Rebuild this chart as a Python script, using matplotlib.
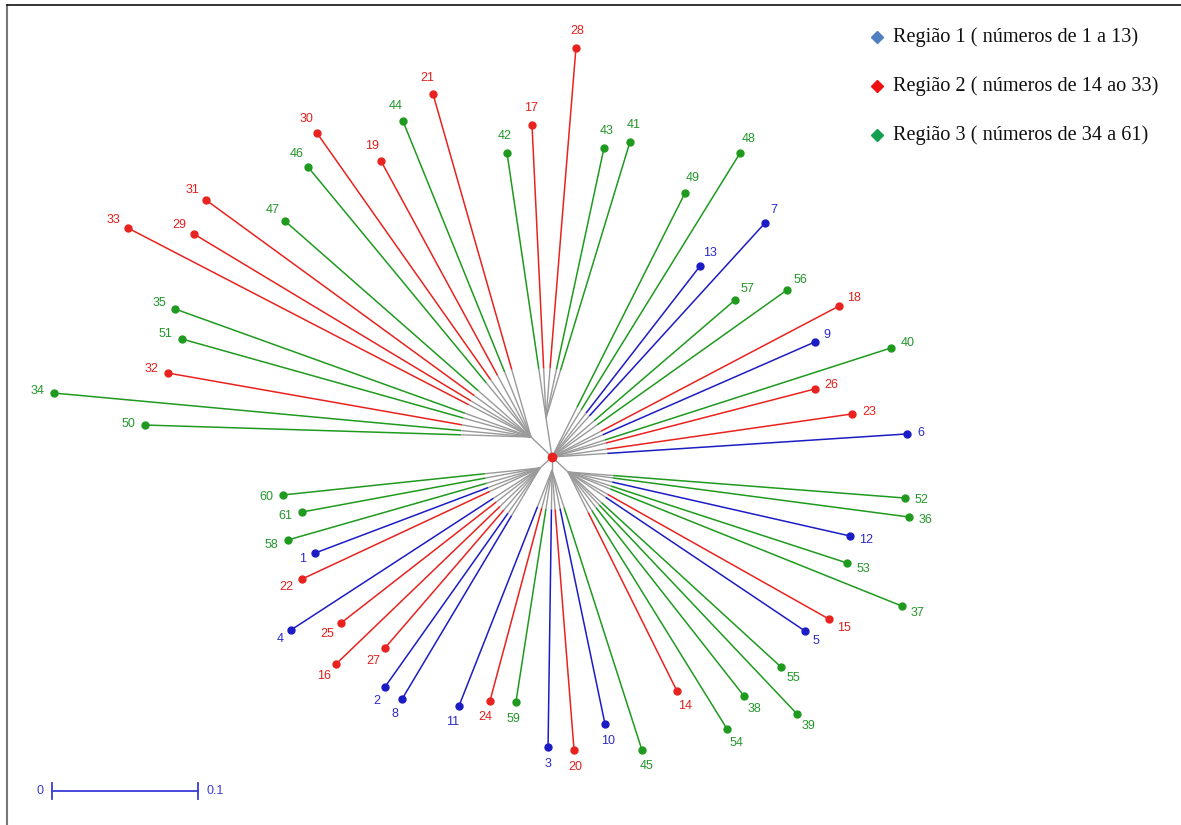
import matplotlib
matplotlib.use("Agg")
import matplotlib.pyplot as plt
import numpy as np

# ---- tree data (branch-length units x 1000, root at origin) ----
leaf_ids = [28, 21, 17, 44, 30, 42, 43, 41, 48, 19, 46, 49, 31, 7, 47, 33, 29,
            13, 57, 56, 18, 35, 9, 51, 40, 32, 26, 34, 23, 50, 6, 60, 52, 61,
            36, 12, 58, 1, 53, 22, 37, 15, 4, 5, 25, 27, 16, 55, 2, 14, 8, 38,
            11, 24, 59, 39, 54, 10, 3, 20, 45]
tip_x = [16.4, -81.5, -13.7, -102.1, -161.0, -30.8, 35.6, 53.4, 128.8, -117.1,
         -167.1, 91.1, -237.0, 145.9, -182.9, -290.4, -245.2, 101.4, 125.3,
         161.0, 196.6, -258.2, 180.1, -253.4, 232.2, -263.0, 180.1, -341.1,
         205.5, -278.8, 243.2, -184.2, 241.8, -171.2, 244.5, 204.1, -180.8,
         -162.3, 202.1, -171.2, 239.7, 189.7, -178.8, 173.3, -144.5, -114.4,
         -147.9, 156.8, -114.4, 85.6, -102.7, 131.5, -63.7, -42.5, -24.7,
         167.8, 119.9, 36.3, -2.7, 15.1, 61.6]
tip_y = [280.1, 248.6, 227.4, 230.1, 221.9, 208.2, 211.6, 215.8, 208.2, 202.7,
         198.6, 180.8, 176.0, 160.3, 161.6, 156.8, 152.7, 130.8, 107.5, 114.4,
         103.4, 101.4, 78.8, 80.8, 74.7, 57.5, 46.6, 43.8, 29.5, 21.9, 15.8,
         -26.0, -28.1, -37.7, -41.1, -54.1, -56.8, -65.8, -72.6, -83.6, -102.1,
         -111.0, -118.5, -119.2, -113.7, -130.8, -141.8, -143.8, -157.5, -160.3,
         -165.8, -163.7, -170.5, -167.1, -167.8, -176.0, -186.3, -182.9, -198.6,
         -200.7, -200.7]

# internal nodes: position and internal branch length before leaf branches
hub_names = ["upper_left", "top", "upper_right", "lower_right", "bottom", "lower_left"]
hub_x = [-14.4, -4.1, 0.0, 11.0, 0.0, -8.2]
hub_y = [13.7, 26.7, 0.0, -10.3, -8.9, -7.5]
hub_inner = [48, 34, 38, 31, 27, 38]
hub_members = {
    "upper_left": [34, 50, 32, 51, 35, 33, 29, 31, 47, 46, 30, 19, 44, 21],
    "top": [17, 42, 28, 43, 41],
    "upper_right": [49, 48, 7, 13, 57, 56, 18, 9, 40, 26, 23, 6],
    "lower_right": [52, 36, 12, 53, 37, 15, 5, 55, 14, 38, 39, 54],
    "bottom": [10, 3, 20, 45, 59, 24, 11],
    "lower_left": [60, 61, 58, 1, 22, 4, 25, 27, 16, 2, 8],
}

region_names = ["Região 1 ( números de 1 a 13)",
                "Região 2 ( números de 14 ao 33)",
                "Região 3 ( números de 34 a 61)"]
region_ranges = [(1, 13), (14, 33), (34, 61)]

line_colors = ["#1c1cc4", "#e8231f", "#1f9a1f"]
text_colors = ["#2a2ac8", "#e0201c", "#23962a"]
legend_colors = ["#4f7fbf", "#ee1111", "#11a050"]
gray = "#9a9a9a"

scale_len = 0.1


def region_of(n):
    for i, (a, b) in enumerate(region_ranges):
        if a <= n <= b:
            return i
    return 0


# ---- figure: 1 data unit = 1460 px ----
W, H, DPI = 1181, 825, 100
PX = 1460.0
cx, cy = 552.0, 457.0
fig = plt.figure(figsize=(W / DPI, H / DPI), dpi=DPI)
ax = fig.add_axes([0, 0, 1, 1])
ax.set_xlim(-cx / PX, (W - cx) / PX)
ax.set_ylim((cy - H) / PX, cy / PX)
ax.axis("off")

tips = {n: (x / 1000.0, y / 1000.0) for n, x, y in zip(leaf_ids, tip_x, tip_y)}

for name, hx, hy, inner in zip(hub_names, hub_x, hub_y, hub_inner):
    hx, hy, inner = hx / 1000.0, hy / 1000.0, inner / 1000.0
    # internal branch from the root to this node
    ax.plot([0, hx], [0, hy], color=gray, lw=1.0, zorder=2,
            solid_capstyle="butt")
    for n in hub_members[name]:
        tx, ty = tips[n]
        d = np.hypot(tx - hx, ty - hy)
        f = inner / d
        mx, my = hx + (tx - hx) * f, hy + (ty - hy) * f
        ax.plot([hx, mx], [hy, my], color=gray, lw=1.0, zorder=2,
                solid_capstyle="butt")
        ax.plot([mx, tx], [my, ty], color=line_colors[region_of(n)], lw=1.1,
                zorder=3, solid_capstyle="butt")

# leaf markers and labels
for n in leaf_ids:
    tx, ty = tips[n]
    r = region_of(n)
    ax.plot(tx, ty, "o", ms=5, color=line_colors[r], mec=line_colors[r], zorder=4)
    ang = np.arctan2(ty, tx)
    w = 7.0 * len(str(n))
    ox = np.cos(ang) * (10 + w / 2)
    oy = np.sin(ang) * 17
    ax.annotate(str(n), (tx, ty), xytext=(ox * 72 / DPI, oy * 72 / DPI),
                textcoords="offset points", ha="center", va="center",
                fontsize=9, color=text_colors[r], family="Liberation Sans",
                zorder=5)

# root node
ax.plot(0, 0, "o", ms=6, color="#e8231f", zorder=6)

# legend
for i, (label, col) in enumerate(zip(region_names, legend_colors)):
    ly = (cy - (37 + 49 * i)) / PX
    ax.plot((877 - cx) / PX, ly, "D", ms=6, color=col, mec=col)
    ax.text((893 - cx) / PX, ly, label, fontsize=14.6, family="Liberation Serif",
            va="center", ha="left", color="#111111")

# scale bar
sb_x0 = (52 - cx) / PX
sb_y = (cy - 791) / PX
tick = 8 / PX
bar_col = "#3a3ad8"
ax.plot([sb_x0, sb_x0 + scale_len], [sb_y, sb_y], color=bar_col, lw=1.3)
for xx in (sb_x0, sb_x0 + scale_len):
    ax.plot([xx, xx], [sb_y - tick, sb_y + tick], color=bar_col, lw=1.3)
ax.text(sb_x0 - 12 / PX, sb_y, "0", color=bar_col, fontsize=9,
        family="Liberation Sans", ha="center", va="center")
ax.text(sb_x0 + scale_len + 8 / PX, sb_y, "0.1", color=bar_col, fontsize=9,
        family="Liberation Sans", ha="left", va="center")

# frame lines along the left and top edges
ax.plot([(7 - cx) / PX, (7 - cx) / PX], [(cy - 5) / PX, (cy - H) / PX],
        color="#777777", lw=1.5, clip_on=False)
ax.plot([(7 - cx) / PX, (W - cx) / PX], [(cy - 5) / PX, (cy - 5) / PX],
        color="#111111", lw=1.2, clip_on=False)

fig.savefig("out.png", dpi=DPI)
